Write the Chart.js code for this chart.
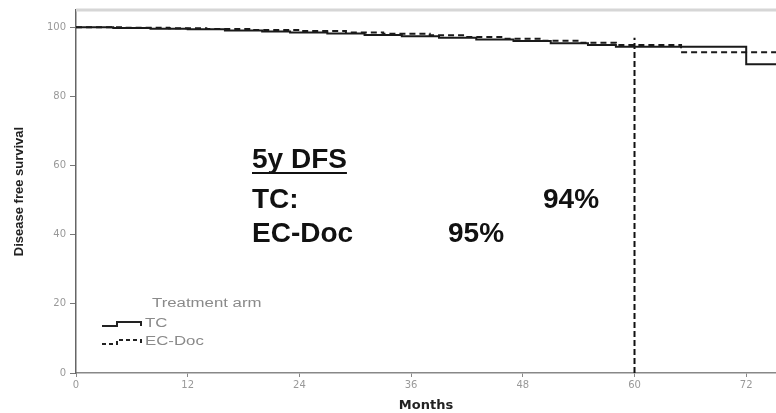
<!DOCTYPE html>
<html>
<head>
<meta charset="utf-8">
<script src="https://cdn.jsdelivr.net/npm/chart.js@4/dist/chart.umd.min.js"></script>
<style>
  html, body { margin: 0; padding: 0; background: #fff; }
  #wrap { width: 776px; height: 413px; }
</style>
</head>
<body>
<div id="wrap"><canvas id="km"></canvas></div>
<script>
// Kaplan-Meier curves (month, % disease free)
const tcMonths = [0, 4, 8, 12, 16, 20, 23, 27, 31, 35, 39, 43, 47, 51, 55, 58, 72, 75.2];
const tcSurvival = [100, 99.8, 99.6, 99.4, 99.1, 98.8, 98.5, 98.2, 97.8, 97.4, 97.0, 96.5, 96.0, 95.4, 94.9, 94.4, 89.3, 89.3];
const ecMonths = [0, 5, 10, 14, 19, 24, 29, 33, 38, 42, 46, 50, 54, 58, 65, 75.2];
const ecSurvival = [100, 99.9, 99.7, 99.5, 99.2, 98.9, 98.5, 98.1, 97.7, 97.2, 96.7, 96.1, 95.5, 94.9, 92.8, 92.8];
// 5-year reference line
const refMonths = [60, 60];
const refValues = [0, 97];

const armNames = ["TC", "EC-Doc"];
const statsTitle = "5y DFS";
const statsLabels = ["TC:", "EC-Doc"];
const statsValues = ["94%", "95%"];

const toPoints = (xs, ys) => xs.map((x, i) => ({ x: x, y: ys[i] }));

// frame line, annotation and legend drawn on top of the chart
const overlay = {
  id: "overlay",
  afterDraw(chart) {
    const ctx = chart.ctx;
    const area = chart.chartArea;
    ctx.save();

    // light top frame
    ctx.strokeStyle = "#d6d6d6";
    ctx.lineWidth = 3;
    ctx.beginPath();
    ctx.moveTo(area.left, area.top);
    ctx.lineTo(area.right, area.top);
    ctx.stroke();

    // 5y DFS block
    ctx.fillStyle = "#111";
    ctx.textBaseline = "alphabetic";
    ctx.font = 'bold 28px "Liberation Sans", Arial, sans-serif';
    ctx.fillText(statsTitle, 252, 168);
    const tw = ctx.measureText(statsTitle).width;
    ctx.fillRect(252, 172, tw, 2);
    ctx.fillText(statsLabels[0], 252, 208);
    ctx.fillText(statsValues[0], 543, 208);
    ctx.fillText(statsLabels[1], 252, 242);
    ctx.fillText(statsValues[1], 448, 242);

    // legend
    const stretched = (txt, x, y) => {
      ctx.save();
      ctx.translate(x, y);
      ctx.scale(1.4, 1);
      ctx.fillText(txt, 0, 0);
      ctx.restore();
    };
    ctx.fillStyle = "#8a8a8a";
    ctx.textBaseline = "middle";
    ctx.font = '12px "Liberation Sans", Arial, sans-serif';
    stretched("Treatment arm", 152, 304);
    stretched(armNames[0], 145, 324);
    stretched(armNames[1], 145, 342);

    ctx.strokeStyle = "#222";
    ctx.lineWidth = 2;
    const symbol = (y, dash) => {
      ctx.setLineDash(dash);
      ctx.beginPath();
      ctx.moveTo(102, y + 2);
      ctx.lineTo(117, y + 2);
      ctx.lineTo(117, y - 2);
      ctx.lineTo(141, y - 2);
      ctx.lineTo(141, y + 2);
      ctx.stroke();
    };
    symbol(324, []);
    symbol(342, [4, 3]);
    ctx.restore();
  }
};

new Chart(document.getElementById("km"), {
  type: "line",
  data: {
    datasets: [
      {
        label: armNames[0],
        data: toPoints(tcMonths, tcSurvival),
        borderColor: "#1a1a1a",
        borderWidth: 2,
        stepped: "before",
        pointRadius: 0,
        fill: false
      },
      {
        label: armNames[1],
        data: toPoints(ecMonths, ecSurvival),
        borderColor: "#1a1a1a",
        borderWidth: 2,
        borderDash: [6, 4],
        stepped: "before",
        pointRadius: 0,
        fill: false
      },
      {
        label: "5 years",
        data: toPoints(refMonths, refValues),
        borderColor: "#111",
        borderWidth: 2,
        borderDash: [6, 3],
        pointRadius: 0,
        fill: false
      }
    ]
  },
  options: {
    responsive: true,
    maintainAspectRatio: false,
    animation: false,
    layout: { padding: { top: 10, right: 0, bottom: 0, left: 0 } },
    plugins: {
      legend: { display: false },
      tooltip: { enabled: false }
    },
    scales: {
      x: {
        type: "linear",
        min: 0,
        max: 75.2,
        afterFit: (s) => { s.height = 40; },
        ticks: {
          stepSize: 12,
          includeBounds: false,
          color: "#999",
          padding: 2,
          font: { family: "'DejaVu Sans', sans-serif", size: 10 }
        },
        grid: { drawOnChartArea: false, tickLength: 4, color: "#888" },
        border: { color: "#888", width: 1.5 },
        title: {
          display: true,
          text: "Months",
          color: "#222",
          padding: { top: 0, bottom: 0 },
          font: { family: "'DejaVu Sans', sans-serif", size: 13, weight: "bold" }
        }
      },
      y: {
        min: 0,
        max: 105,
        afterFit: (s) => { s.width = 76; },
        ticks: {
          stepSize: 20,
          includeBounds: false,
          color: "#999",
          padding: 4,
          font: { family: "'DejaVu Sans', sans-serif", size: 10 }
        },
        grid: { drawOnChartArea: false, tickLength: 6, color: "#777" },
        border: { color: "#666", width: 1.5 },
        title: {
          display: true,
          text: "Disease free survival",
          color: "#222",
          padding: { top: 12, bottom: 0 },
          font: { family: "'Liberation Sans Narrow', 'Liberation Sans', sans-serif", size: 13, weight: "bold" }
        }
      }
    }
  },
  plugins: [overlay]
});
</script>
</body>
</html>
